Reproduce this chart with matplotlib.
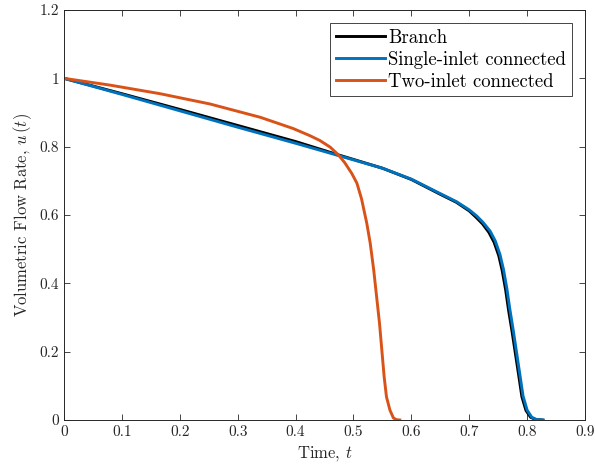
import numpy as np
import matplotlib.pyplot as plt
from matplotlib.ticker import FuncFormatter

plt.rcParams['font.family'] = 'cmr10'
plt.rcParams['mathtext.fontset'] = 'cm'
plt.rcParams['axes.unicode_minus'] = False
plt.rcParams['axes.formatter.use_mathtext'] = True

# flow rate u(t) for the three network layouts
t_single = [0, 0.1, 0.2, 0.3, 0.4, 0.47, 0.55, 0.6, 0.6495, 0.678, 0.7, 0.713,
            0.724, 0.736, 0.745, 0.753, 0.759, 0.765, 0.77, 0.776, 0.782,
            0.788, 0.793, 0.8, 0.808, 0.817, 0.828]
u_single = [1, 0.953, 0.905, 0.857, 0.81, 0.776, 0.737, 0.705, 0.663, 0.639,
            0.615, 0.597, 0.578, 0.553, 0.524, 0.485, 0.442, 0.385, 0.326,
            0.263, 0.195, 0.127, 0.07, 0.029, 0.008, 0.001, 0]

t_branch = [0, 0.1, 0.2, 0.3, 0.4, 0.47, 0.55, 0.6, 0.6495, 0.678, 0.7, 0.712,
            0.723, 0.734, 0.743, 0.751, 0.757, 0.763, 0.768, 0.774, 0.78,
            0.786, 0.791, 0.798, 0.806, 0.815, 0.826]
u_branch = [1, 0.955, 0.909, 0.862, 0.815, 0.778, 0.737, 0.704, 0.661, 0.637,
            0.612, 0.593, 0.574, 0.549, 0.52, 0.481, 0.437, 0.38, 0.321,
            0.259, 0.192, 0.125, 0.068, 0.028, 0.008, 0.001, 0]

t_two = [0, 0.08, 0.166, 0.252, 0.339, 0.396, 0.425, 0.442, 0.4595, 0.474,
         0.485, 0.497, 0.506, 0.514, 0.523, 0.529, 0.535, 0.54, 0.545, 0.549,
         0.553, 0.557, 0.563, 0.569, 0.574, 0.58]
u_two = [1, 0.98, 0.955, 0.925, 0.886, 0.853, 0.832, 0.818, 0.799, 0.776,
         0.753, 0.722, 0.693, 0.647, 0.576, 0.517, 0.439, 0.361, 0.283, 0.205,
         0.127, 0.068, 0.029, 0.006, 0.001, 0]

fig = plt.figure(figsize=(5.95, 4.72), dpi=100)
ax = fig.add_axes([0.1076, 0.1102, 0.8756, 0.8686])

ax.plot(t_branch, u_branch, color='black', lw=2.1, label='Branch')
ax.plot(t_single, u_single, color='#0072BD', lw=2.1, label='Single-inlet connected')
ax.plot(t_two, u_two, color='#D95319', lw=2.1, label='Two-inlet connected')

ax.set_xlim(0, 0.9)
ax.set_ylim(0, 1.2)
ax.set_xticks(np.arange(0, 0.91, 0.1))
ax.set_yticks(np.arange(0, 1.21, 0.2))
fmt = FuncFormatter(lambda v, p: '%g' % round(v, 2))
ax.xaxis.set_major_formatter(fmt)
ax.yaxis.set_major_formatter(fmt)
ax.tick_params(direction='in', top=True, right=True, length=4, width=0.6,
               color='#262626', labelsize=11, labelcolor='#262626')
for s in ax.spines.values():
    s.set_linewidth(0.7)
    s.set_color('#262626')

ax.set_xlabel('Time, $t$', fontsize=12, color='#262626')
ax.set_ylabel('Volumetric Flow Rate, $u\\,(t)$', fontsize=12, color='#262626')

leg = ax.legend(loc='upper right', fontsize=13.5, fancybox=False, framealpha=1,
                edgecolor='#262626', handlelength=2.6, handletextpad=0.2,
                borderpad=0.3, labelspacing=0.22, borderaxespad=0.7)
leg.get_frame().set_linewidth(0.6)

fig.savefig('out.png', dpi=100)
